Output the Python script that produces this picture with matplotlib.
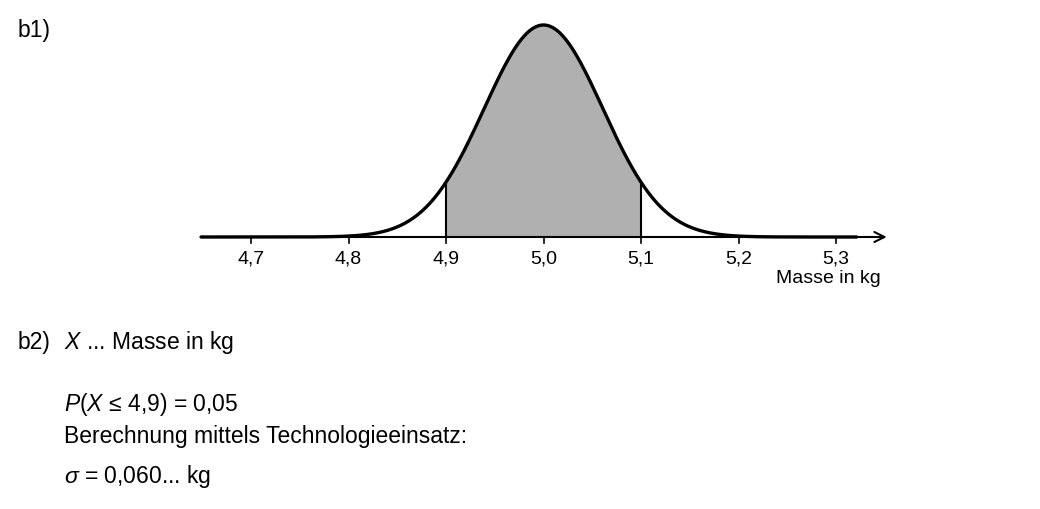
import numpy as np
import matplotlib
matplotlib.use("Agg")
import matplotlib.pyplot as plt

# Normalverteilung der Masse
mu = 5.0
sigma = 0.0608
lower = 4.9
upper = 5.1
x_ticks = [4.7, 4.8, 4.9, 5.0, 5.1, 5.2, 5.3]
x_tick_labels = ["4,7", "4,8", "4,9", "5,0", "5,1", "5,2", "5,3"]
x_start = 4.648
x_end = 5.352

plt.rcParams['font.family'] = ['Liberation Sans', 'DejaVu Sans']
plt.rcParams['mathtext.fontset'] = 'custom'
plt.rcParams['mathtext.rm'] = 'Liberation Sans'
plt.rcParams['mathtext.it'] = 'Liberation Sans:italic'

W, H = 1040, 509
fig = plt.figure(figsize=(W / 100, H / 100), dpi=100)

# Achse in Pixel positionieren
px_left, px_right, px_top, px_bottom = 190, 895, 15, 290
ax = fig.add_axes([px_left / W, 1 - px_bottom / H, (px_right - px_left) / W, (px_bottom - px_top) / H])
scale_x = 975.0
ax.set_xlim(4.7 - (251 - px_left) / scale_x, 5.3 + (px_right - 836) / scale_x)
peak = 1 / (sigma * np.sqrt(2 * np.pi))
scale_y = 212 / peak
ax.set_ylim(-(px_bottom - 237) / scale_y, peak + (25 - px_top) / scale_y)
ax.axis("off")

def pdf(x):
    return np.exp(-0.5 * ((x - mu) / sigma) ** 2) / (sigma * np.sqrt(2 * np.pi))

xs = np.linspace(x_start, x_end - 0.03, 800)
xf = np.linspace(lower, upper, 400)
ax.fill_between(xf, 0, pdf(xf), color="#b0b0b0", lw=0, zorder=1)
ax.vlines([lower, upper], 0, [pdf(lower), pdf(upper)], color="black", lw=1.5, zorder=2)

# x-Achse mit Pfeil
ax.annotate("", xy=(x_end, 0), xytext=(x_start, 0),
            arrowprops=dict(arrowstyle="->", lw=1.5, color="black",
                            mutation_scale=18, shrinkA=0, shrinkB=0), zorder=3)
ax.plot(xs, pdf(xs), color="black", lw=2.4, zorder=4, solid_capstyle="butt")

tick_len = 6 / scale_y
for t, lab in zip(x_ticks, x_tick_labels):
    ax.plot([t, t], [0, -tick_len], color="black", lw=1.2)
    ax.text(t, -13 / scale_y, lab, ha="center", va="top", fontsize=14)
ax.text(5.3 + 45 / scale_x, -33 / scale_y, "Masse in kg", ha="right", va="top", fontsize=14)

def put(px, py, s, **kw):
    fig.text(px / W, 1 - py / H, s, va="center", ha="left", fontsize=16.5, **kw)

put(18, 30, "b1)")
put(18, 342, "b2)")
put(64, 342, "$X$ ... Masse in kg")
put(64, 404, "$P$($X$ ≤ 4,9) = 0,05")
put(64, 436, "Berechnung mittels Technologieeinsatz:")
put(64, 477, "$σ$ = 0,060... kg")

fig.savefig("out.png", dpi=100)
